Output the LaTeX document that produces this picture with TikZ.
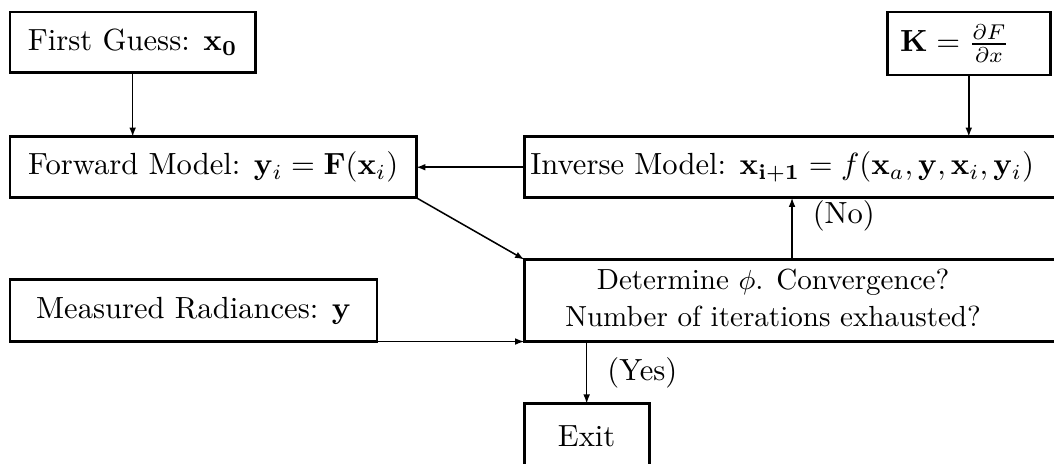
\documentclass[tikz,border=0pt]{standalone}
\usetikzlibrary{arrows.meta,positioning}
\tikzset{
  block/.style={draw,line width=0.9pt,outer sep=0pt,minimum height=19.9pt,inner xsep=4pt},
  padright/.style={execute at end node={\hspace*{#1}}},
  arrow/.style={-{Latex[length=3pt,width=2.2pt]},line width=0.5pt}
}
\begin{document}
\begin{tikzpicture}[node distance=21pt]
  \useasboundingbox (0,0) rectangle (344.4pt,-151.6pt);
  \node[block,minimum width=80.1pt,anchor=north west] (guess) at (3.3pt,-3.9pt) {First Guess: $\mathbf{x_0}$};
  \node[block,minimum width=132.7pt,below=20.9pt of guess.south west,anchor=north west] (forward) {Forward Model: $\mathbf{y}_i=\mathbf{F}(\mathbf{x}_i)$};
  \node[block,minimum width=119.9pt,minimum height=20.2pt,below=26.8pt of forward.south west,anchor=north west] (measured) {Measured Radiances: $\mathbf{y}$};
  \node[block,inner xsep=2pt,padright=6.8pt,right=35.3pt of forward.north east,anchor=north west] (inverse) {Inverse Model: $\mathbf{x_{i+1}}=f(\mathbf{x}_a,\mathbf{y},\mathbf{x}_i,\mathbf{y}_i)$};
  \node[block,inner xsep=4.25pt,padright=9.2pt,minimum height=20.6pt,anchor=north west] (jacobian) at (289.9pt,-3.9pt) {$\mathbf{K}=\frac{\partial F}{\partial x}$};
  \node[block,font=\fontsize{9.5}{12}\selectfont,inner xsep=13.4pt,inner ysep=1pt,minimum height=26.8pt,padright=12.4pt,anchor=south west] (decide) at (inverse.west |- measured.south) {\begin{tabular}{@{}c@{}}Determine $\phi$. Convergence?\\Number of iterations exhausted?\end{tabular}};
  \node[block,minimum width=40.8pt,minimum height=21.6pt,inner xsep=3pt,below=20.3pt of decide.south west,anchor=north west] (exit) {Exit};
  \draw[arrow] (guess) -- (guess |- forward.north);
  \draw[arrow] (jacobian.south) -- (inverse.north -| jacobian.south);
  \draw[arrow] (inverse) -- (forward);
  \draw[arrow] (forward.south east) -- (decide.north west);
  \draw[arrow] (measured.south east) -- (decide.south west);
  \draw[arrow] (decide.north) -- node[pos=0.7,right=3.2pt]{(No)} (decide.north |- inverse.south);
  \draw[arrow] (exit.north |- decide.south) -- node[right=3.2pt]{(Yes)} (exit.north);
\end{tikzpicture}
\end{document}
